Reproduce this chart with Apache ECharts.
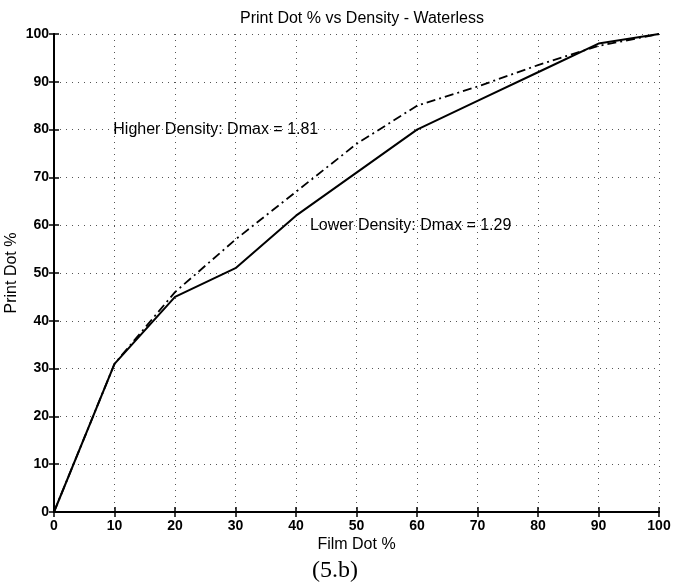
<!DOCTYPE html>
<html>
<head>
<meta charset="utf-8">
<script src="https://cdn.jsdelivr.net/npm/echarts@6/dist/echarts.min.js"></script>
<style>
html,body{margin:0;padding:0;background:#fff;}
#c{width:676px;height:588px;}
</style>
</head>
<body>
<div id="c"></div>
<script>
var filmDot = [0, 10, 20, 30, 40, 50, 60, 70, 80, 90, 100];
var lowerDensity = [0, 31, 45, 51, 62, 71, 80, 86, 92, 98, 100];
var higherDensity = [0, 31, 46, 57, 67, 77, 85, 89, 93.5, 97.5, 100];
var xTicks = [0, 10, 20, 30, 40, 50, 60, 70, 80, 90, 100];
var yTicks = [0, 10, 20, 30, 40, 50, 60, 70, 80, 90, 100];
var higherLabel = {x: 9.8, y: 80, text: 'Higher Density: Dmax = 1.81'};
var lowerLabel = {x: 42.3, y: 60, text: 'Lower Density: Dmax = 1.29'};

var FONT = '"Liberation Sans", Arial, sans-serif';
function pairs(xs, ys){ return xs.map(function(x,i){ return [x, ys[i]]; }); }

var chart = echarts.init(document.getElementById('c'), null, {renderer:'canvas'});
var gridStyle = {show:true, lineStyle:{color:'#555', width:1, type:[1,5]}};
var axisLbl = {color:'#000', fontFamily:FONT, fontSize:14, fontWeight:'bold'};
chart.setOption({
  backgroundColor:'#fff',
  animation:false,
  title:[
    {text:'Print Dot % vs Density - Waterless', left:357, top:6, textAlign:'center',
     textStyle:{fontFamily:FONT, fontSize:16, fontWeight:'normal', color:'#000'}},
    {text:'(5.b)', left:330, top:554, textAlign:'center',
     textStyle:{fontFamily:'"Liberation Serif", "DejaVu Serif", serif', fontSize:24, fontWeight:'normal', color:'#000'}}
  ],
  grid:{left:54, right:17, top:34, bottom:76, containLabel:false, outerBoundsMode:'none'},
  xAxis:[
    {type:'value', min:0, max:100, interval:10, position:'bottom',
     name:'Film Dot %', nameLocation:'middle', nameGap:25, nameMoveOverlap:false,
     nameTextStyle:{fontFamily:FONT, fontSize:16, color:'#000'},
     axisLine:{show:true, lineStyle:{color:'#000', width:2}},
     axisTick:{show:true, inside:true, length:5, lineStyle:{color:'#000', width:1.5}},
     axisLabel:Object.assign({margin:7, formatter:function(v){return xTicks.indexOf(v)>=0?String(v):'';}}, axisLbl),
     splitLine:gridStyle},
    {type:'value', min:0, max:100, interval:10, position:'top',
     axisLine:{show:true, lineStyle:{color:'#000', width:2}},
     axisTick:{show:true, inside:true, length:5, lineStyle:{color:'#000', width:1.5}},
     axisLabel:{show:false}, splitLine:{show:false}}
  ],
  yAxis:[
    {type:'value', min:0, max:100, interval:10, position:'left',
     name:'Print Dot %', nameLocation:'middle', nameGap:34, nameRotate:90, nameMoveOverlap:false,
     nameTextStyle:{fontFamily:FONT, fontSize:16, color:'#000'},
     axisLine:{show:true, lineStyle:{color:'#000', width:2}},
     axisTick:{show:true, inside:true, length:5, lineStyle:{color:'#000', width:1.5}},
     axisLabel:Object.assign({margin:5, formatter:function(v){return yTicks.indexOf(v)>=0?String(v):'';}}, axisLbl),
     splitLine:gridStyle},
    {type:'value', min:0, max:100, interval:10, position:'right',
     axisLine:{show:true, lineStyle:{color:'#000', width:2}},
     axisTick:{show:true, inside:true, length:5, lineStyle:{color:'#000', width:1.5}},
     axisLabel:{show:false}, splitLine:{show:false}}
  ],
  series:[
    {name:'Lower Density', type:'line', data:pairs(filmDot, lowerDensity), symbol:'none',
     lineStyle:{color:'#000', width:2, type:'solid'}, z:3},
    {name:'Higher Density', type:'line', data:pairs(filmDot, higherDensity), symbol:'none',
     lineStyle:{color:'#000', width:1.8, type:[9,4,2,4]}, z:3},
    {name:'labels', type:'scatter', symbolSize:0, silent:true, z:4,
     data:[[higherLabel.x, higherLabel.y, higherLabel.text],[lowerLabel.x, lowerLabel.y, lowerLabel.text]],
     itemStyle:{opacity:1},
     label:{show:true, position:'right', distance:0, color:'#000', opacity:1, fontFamily:FONT, fontSize:16,
       formatter:function(p){return p.data[2];}}}
  ]
});
</script>
</body>
</html>
